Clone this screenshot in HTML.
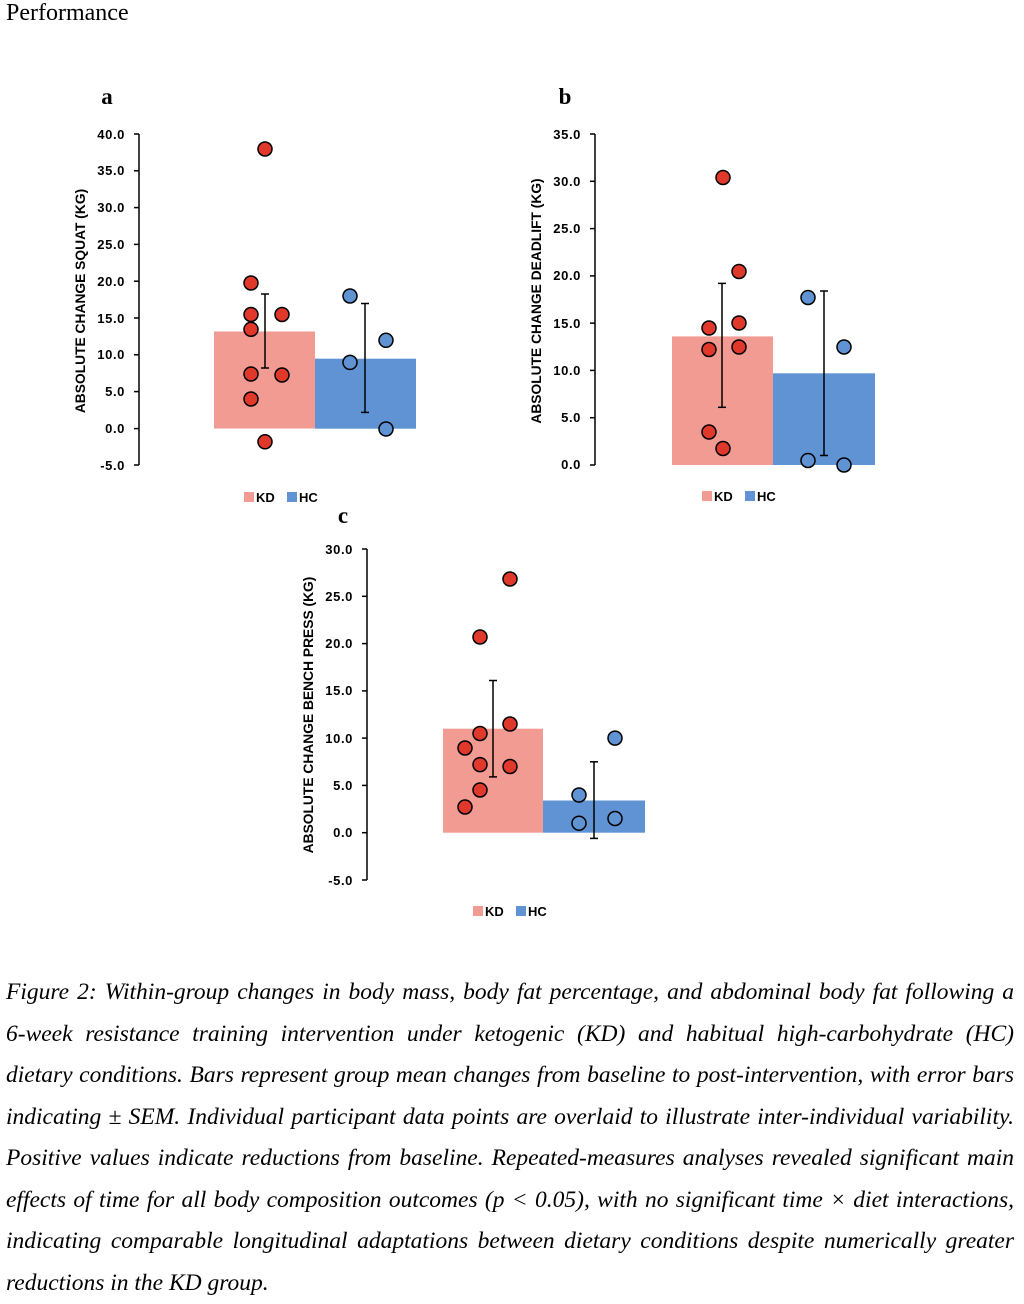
<!DOCTYPE html>
<html><head><meta charset="utf-8"><style>
body{margin:0;background:#fff;width:1024px;height:1298px;overflow:hidden;position:relative}
.t{position:absolute;left:6px;top:0px;font:24px "Liberation Serif",serif}
.cap{position:absolute;left:6px;top:972px;width:1008px;font:italic 23.5px/41.5px "Liberation Serif",serif}
.cap div{text-align:justify;text-align-last:justify;white-space:nowrap;height:41.5px}
.cap div.l{text-align-last:left}
svg{position:absolute;left:0;top:0}
</style></head><body>
<div class="t">Performance</div>
<svg width="1024" height="960" font-family="Liberation Sans, sans-serif">
<g font-weight="bold" font-size="13" text-anchor="end" fill="#000">
<!-- chart a -->
<line x1="139" y1="134" x2="139" y2="465" stroke="#000" stroke-width="1.5"/>
<g stroke="#000" stroke-width="1.5">
<line x1="134" y1="134" x2="139" y2="134"/><line x1="134" y1="170.8" x2="139" y2="170.8"/><line x1="134" y1="207.6" x2="139" y2="207.6"/><line x1="134" y1="244.4" x2="139" y2="244.4"/><line x1="134" y1="281.2" x2="139" y2="281.2"/><line x1="134" y1="318" x2="139" y2="318"/><line x1="134" y1="354.8" x2="139" y2="354.8"/><line x1="134" y1="391.6" x2="139" y2="391.6"/><line x1="134" y1="428.6" x2="139" y2="428.6"/><line x1="134" y1="465" x2="139" y2="465"/></g>
<g letter-spacing="0.6"><text x="125" y="139">40.0</text><text x="125" y="175">35.0</text><text x="125" y="212">30.0</text><text x="125" y="249">25.0</text><text x="125" y="286">20.0</text><text x="125" y="323">15.0</text><text x="125" y="359">10.0</text><text x="125" y="396">5.0</text><text x="125" y="433">0.0</text><text x="125" y="470">-5.0</text></g>
<rect x="214" y="331.5" width="101" height="97" fill="#f19b92"/>
<rect x="315" y="358.7" width="101" height="70" fill="#5f93d3"/>
<g stroke="#000" stroke-width="1.5"><line x1="265" y1="294" x2="265" y2="368"/><line x1="261" y1="294" x2="269" y2="294"/><line x1="261" y1="368" x2="269" y2="368"/>
<line x1="365" y1="303.5" x2="365" y2="412.4"/><line x1="361" y1="303.5" x2="369" y2="303.5"/><line x1="361" y1="412.4" x2="369" y2="412.4"/></g>
<g fill="#e0392c" stroke="#000" stroke-width="1.5">
<circle cx="265" cy="149" r="7"/><circle cx="251" cy="283" r="7"/><circle cx="251" cy="314.5" r="7"/><circle cx="282" cy="314.5" r="7"/><circle cx="251" cy="329.3" r="7"/><circle cx="251" cy="374" r="7"/><circle cx="282" cy="375" r="7"/><circle cx="251" cy="399" r="7"/><circle cx="265" cy="441.8" r="7"/></g>
<g fill="#5f93d3" stroke="#000" stroke-width="1.5"><circle cx="350" cy="296" r="7"/><circle cx="350" cy="362.4" r="7"/><circle cx="386" cy="340.3" r="7"/><circle cx="386" cy="429" r="7"/></g>
<text transform="translate(85,301) rotate(-90)" text-anchor="middle" font-size="13.8">ABSOLUTE CHANGE SQUAT (KG)</text>
<rect x="244" y="492" width="10" height="10" fill="#f19b92"/><text x="256" y="502" text-anchor="start">KD</text>
<rect x="287" y="492" width="10" height="10" fill="#5f93d3"/><text x="299" y="502" text-anchor="start">HC</text>
<text x="107" y="104" font-family="Liberation Serif, serif" font-size="23" text-anchor="middle">a</text>

<!-- chart b -->
<line x1="595" y1="134" x2="595" y2="465" stroke="#000" stroke-width="1.5"/>
<g stroke="#000" stroke-width="1.5">
<line x1="590" y1="134" x2="595" y2="134"/><line x1="590" y1="181.3" x2="595" y2="181.3"/><line x1="590" y1="228.6" x2="595" y2="228.6"/><line x1="590" y1="275.9" x2="595" y2="275.9"/><line x1="590" y1="323.1" x2="595" y2="323.1"/><line x1="590" y1="370.4" x2="595" y2="370.4"/><line x1="590" y1="417.7" x2="595" y2="417.7"/><line x1="590" y1="465" x2="595" y2="465"/></g>
<g letter-spacing="0.6"><text x="581" y="139">35.0</text><text x="581" y="186">30.0</text><text x="581" y="233">25.0</text><text x="581" y="280">20.0</text><text x="581" y="328">15.0</text><text x="581" y="375">10.0</text><text x="581" y="422">5.0</text><text x="581" y="469">0.0</text></g>
<rect x="672" y="336.4" width="101" height="128.6" fill="#f19b92"/>
<rect x="773" y="373.3" width="102" height="91.7" fill="#5f93d3"/>
<g stroke="#000" stroke-width="1.5"><line x1="722" y1="283.4" x2="722" y2="407.3"/><line x1="718" y1="283.4" x2="726" y2="283.4"/><line x1="718" y1="407.3" x2="726" y2="407.3"/>
<line x1="824" y1="291" x2="824" y2="455.5"/><line x1="820" y1="291" x2="828" y2="291"/><line x1="820" y1="455.5" x2="828" y2="455.5"/></g>
<g fill="#e0392c" stroke="#000" stroke-width="1.5">
<circle cx="723" cy="177.5" r="7"/><circle cx="739" cy="271.5" r="7"/><circle cx="709" cy="328" r="7"/><circle cx="739" cy="323" r="7"/><circle cx="709" cy="349.5" r="7"/><circle cx="739" cy="347" r="7"/><circle cx="709" cy="432" r="7"/><circle cx="723" cy="448.5" r="7"/></g>
<g fill="#5f93d3" stroke="#000" stroke-width="1.5"><circle cx="808" cy="297.5" r="7"/><circle cx="844" cy="347" r="7"/><circle cx="808" cy="460.5" r="7"/><circle cx="844" cy="465" r="7"/></g>
<text transform="translate(541,301) rotate(-90)" text-anchor="middle" font-size="13.8">ABSOLUTE CHANGE DEADLIFT (KG)</text>
<rect x="702" y="491" width="10" height="10" fill="#f19b92"/><text x="714" y="501" text-anchor="start">KD</text>
<rect x="745" y="491" width="10" height="10" fill="#5f93d3"/><text x="757" y="501" text-anchor="start">HC</text>
<text x="565" y="104" font-family="Liberation Serif, serif" font-size="23" text-anchor="middle">b</text>

<!-- chart c -->
<line x1="367" y1="549" x2="367" y2="880" stroke="#000" stroke-width="1.5"/>
<g stroke="#000" stroke-width="1.5">
<line x1="362" y1="549" x2="367" y2="549"/><line x1="362" y1="596.3" x2="367" y2="596.3"/><line x1="362" y1="643.6" x2="367" y2="643.6"/><line x1="362" y1="690.9" x2="367" y2="690.9"/><line x1="362" y1="738.1" x2="367" y2="738.1"/><line x1="362" y1="785.4" x2="367" y2="785.4"/><line x1="362" y1="832.7" x2="367" y2="832.7"/><line x1="362" y1="880" x2="367" y2="880"/></g>
<g letter-spacing="0.6"><text x="353" y="554">30.0</text><text x="353" y="601">25.0</text><text x="353" y="648">20.0</text><text x="353" y="695">15.0</text><text x="353" y="743">10.0</text><text x="353" y="790">5.0</text><text x="353" y="837">0.0</text><text x="353" y="885">-5.0</text></g>
<rect x="443" y="728.7" width="100" height="104" fill="#f19b92"/>
<rect x="543" y="800.5" width="102" height="32.2" fill="#5f93d3"/>
<g stroke="#000" stroke-width="1.5"><line x1="493" y1="680.5" x2="493" y2="776.9"/><line x1="489" y1="680.5" x2="497" y2="680.5"/><line x1="489" y1="776.9" x2="497" y2="776.9"/>
<line x1="594" y1="761.8" x2="594" y2="838.4"/><line x1="590" y1="761.8" x2="598" y2="761.8"/><line x1="590" y1="838.4" x2="598" y2="838.4"/></g>
<g fill="#e0392c" stroke="#000" stroke-width="1.5">
<circle cx="510" cy="579" r="7"/><circle cx="480" cy="637" r="7"/><circle cx="510" cy="724" r="7"/><circle cx="480" cy="733.5" r="7"/><circle cx="465" cy="748" r="7"/><circle cx="480" cy="764.6" r="7"/><circle cx="510" cy="766.5" r="7"/><circle cx="480" cy="790" r="7"/><circle cx="465" cy="807" r="7"/></g>
<g fill="#5f93d3" stroke="#000" stroke-width="1.5"><circle cx="615" cy="738.1" r="7"/><circle cx="579" cy="795" r="7"/><circle cx="579" cy="823.2" r="7"/><circle cx="615" cy="818.5" r="7"/></g>
<text transform="translate(313,715) rotate(-90)" text-anchor="middle" font-size="13.8">ABSOLUTE CHANGE BENCH PRESS  (KG)</text>
<rect x="473" y="906" width="10" height="10" fill="#f19b92"/><text x="485" y="916" text-anchor="start">KD</text>
<rect x="516" y="906" width="10" height="10" fill="#5f93d3"/><text x="528" y="916" text-anchor="start">HC</text>
<text x="343" y="523" font-family="Liberation Serif, serif" font-size="23" text-anchor="middle">c</text>
</g>
</svg>
<div class="cap">
<div>Figure 2: Within-group changes in body mass, body fat percentage, and abdominal body fat following a</div>
<div>6-week resistance training intervention under ketogenic (KD) and habitual high-carbohydrate (HC)</div>
<div>dietary conditions. Bars represent group mean changes from baseline to post-intervention, with error bars</div>
<div>indicating ± SEM. Individual participant data points are overlaid to illustrate inter-individual variability.</div>
<div>Positive values indicate reductions from baseline. Repeated-measures analyses revealed significant main</div>
<div>effects of time for all body composition outcomes (p &lt; 0.05), with no significant time × diet interactions,</div>
<div>indicating comparable longitudinal adaptations between dietary conditions despite numerically greater</div>
<div class="l">reductions in the KD group.</div>
</div>
</body></html>
